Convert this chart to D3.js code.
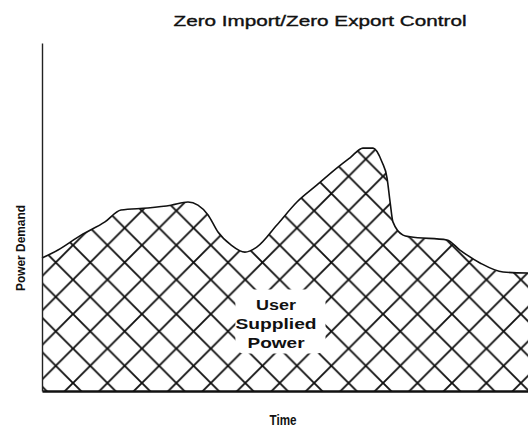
<!DOCTYPE html>
<html>
<head>
<meta charset="utf-8">
<script src="https://cdn.jsdelivr.net/npm/d3@7"></script>
<style>
  html, body { margin: 0; padding: 0; background: #fff; }
  svg { display: block; }
</style>
</head>
<body>
<svg id="chart" width="528" height="431"></svg>
<script>
// ---- data ----
const timeHours = [0, 0.79, 1.93, 3.11, 3.90, 5.23, 6.37, 7.21, 7.70, 8.20, 8.69, 9.33, 10.02, 10.62,
  11.60, 12.59, 13.58, 14.57, 15.21, 15.85, 16.35, 16.79, 17.04, 17.19, 17.33, 17.83, 18.17,
  20.0, 20.64, 21.63, 22.77, 24];
const powerDemand = [38.2, 40.5, 44.8, 48.6, 52.0, 52.6, 53.4, 54.3, 53.4, 50.6, 45.7, 42.0, 39.9, 41.4,
  47.7, 54.3, 59.2, 64.1, 67.0, 69.8, 69.8, 65.8, 61.2, 54.3, 48.6, 44.8, 44.3,
  43.4, 40.5, 36.8, 34.2, 33.9];
const titleText = "Zero Import/Zero Export Control";
const xLabel = "Time";
const yLabel = "Power Demand";
const areaLabel = ["User", "Supplied", "Power"];

(function () {
const data = timeHours.map((t, i) => ({ t, v: powerDemand[i] }));

const svg = d3.select("#chart");
const mLeft = 42, mRight = 528, mTop = 43, mBottom = 391;

const x = d3.scaleLinear().domain([0, 24]).range([mLeft, mRight]);
const y = d3.scaleLinear().domain([0, 100]).range([mBottom, mTop]);

// hatch pattern
const s = 34.45;
const defs = svg.append("defs");
const pat = defs.append("pattern")
  .attr("id", "hatch")
  .attr("patternUnits", "userSpaceOnUse")
  .attr("x", 73).attr("y", 383)
  .attr("width", s).attr("height", s);
const hatchPath = [
  `M${-s},0L${s},${2*s}`, `M0,0L${s},${s}`, `M0,${-s}L${2*s},${s}`,
  `M0,${s}L${s},0`, `M${-s},${s}L${s},${-s}`, `M0,${2*s}L${2*s},0`
].join("");
pat.append("path").attr("d", hatchPath)
  .attr("stroke", "#111").attr("stroke-width", 1.9).attr("fill", "none");

const area = d3.area().x(d => x(d.t)).y0(y(0)).y1(d => y(d.v)).curve(d3.curveMonotoneX);
const line = d3.line().x(d => x(d.t)).y(d => y(d.v)).curve(d3.curveMonotoneX);

svg.append("path").datum(data).attr("d", area).attr("fill", "url(#hatch)");
svg.append("path").datum(data).attr("d", line)
  .attr("fill", "none").attr("stroke", "#111").attr("stroke-width", 1.6);

// white label box
svg.append("rect")
  .attr("x", x(9.55)).attr("y", y(29.2)).attr("width", x(14.0) - x(9.55)).attr("height", y(10.8) - y(29.2))
  .attr("rx", 8).attr("fill", "#fff");

const lblFont = "'Liberation Sans', Arial, Helvetica, sans-serif";
const lblCx = x(11.56);
const lblBase = [310, 329, 348];
const lblLen = [40, 81, 57];
areaLabel.forEach((t, i) => {
  svg.append("text").attr("x", lblCx).attr("y", lblBase[i])
    .attr("text-anchor", "middle").attr("font-family", lblFont)
    .attr("font-size", 14).attr("font-weight", "bold").attr("fill", "#111")
    .attr("textLength", lblLen[i]).attr("lengthAdjust", "spacingAndGlyphs")
    .text(t);
});

// axes
svg.append("g").attr("transform", `translate(0,${mBottom})`)
  .call(d3.axisBottom(x).ticks(0).tickSizeOuter(0))
  .call(g => g.select(".domain").attr("stroke", "#111").attr("stroke-width", 2.4));
svg.append("g").attr("transform", `translate(${mLeft},0)`)
  .call(d3.axisLeft(y).ticks(0).tickSizeOuter(0))
  .call(g => g.select(".domain").attr("stroke", "#222").attr("stroke-width", 1.4));

// title
svg.append("text").attr("x", 320).attr("y", 26).attr("text-anchor", "middle")
  .attr("font-family", lblFont).attr("font-size", 14).attr("fill", "#111")
  .attr("stroke", "#111").attr("stroke-width", 0.35)
  .attr("textLength", 293).attr("lengthAdjust", "spacingAndGlyphs")
  .text(titleText);

// x label
svg.append("text").attr("x", 283).attr("y", 425).attr("text-anchor", "middle")
  .attr("font-family", lblFont).attr("font-size", 14).attr("font-weight", "bold").attr("fill", "#111")
  .attr("textLength", 27).attr("lengthAdjust", "spacingAndGlyphs")
  .text(xLabel);

// y label
svg.append("text").attr("transform", "translate(25,248) rotate(-90)")
  .attr("text-anchor", "middle")
  .attr("font-family", lblFont).attr("font-size", 13).attr("font-weight", "bold").attr("fill", "#111")
  .attr("textLength", 86).attr("lengthAdjust", "spacingAndGlyphs")
  .text(yLabel);
})();
</script>
</body>
</html>
